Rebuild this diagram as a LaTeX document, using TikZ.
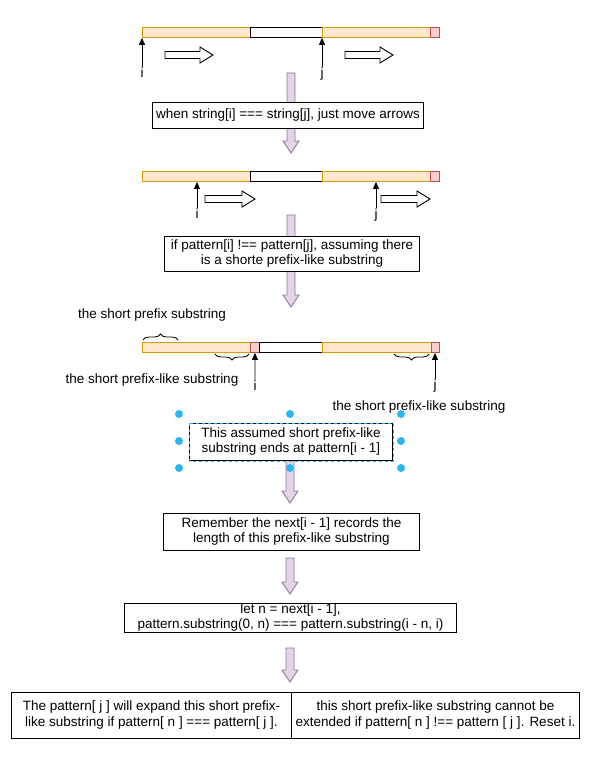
\documentclass[tikz,border=0pt]{standalone}
\usepackage{fontspec}
\setmainfont{Liberation Sans}
\usetikzlibrary{arrows.meta,decorations.pathreplacing}
\definecolor{orfill}{HTML}{FFE6CC}
\definecolor{ordraw}{HTML}{D79B00}
\definecolor{pkfill}{HTML}{F8CECC}
\definecolor{pkdraw}{HTML}{B85450}
\definecolor{pufill}{HTML}{E1D5E7}
\definecolor{pudraw}{HTML}{9673A6}
\definecolor{handle}{HTML}{29B6F2}
\newcommand\purparrow[3]{\draw[purp] (#1-4,#2) -- (#1+4,#2) -- (#1+4,#3-12) -- (#1+8,#3-12) -- (#1,#3) -- (#1-8,#3-12) -- (#1-4,#3-12) -- cycle;}
\newcommand\hollowarrow[3]{\draw[hollow] (#1,#3-3.5) -- (#2-13,#3-3.5) -- (#2-13,#3-8) -- (#2,#3) -- (#2-13,#3+8) -- (#2-13,#3+3.5) -- (#1,#3+3.5) -- cycle;}
\begin{document}
\begin{tikzpicture}[x=1pt,y=-1pt, font=\fontsize{13.5}{15}\selectfont,
 seg/.style={draw, line width=0.9pt, inner sep=0, anchor=north west, minimum height=10pt},
 oseg/.style={seg, fill=orfill, draw=ordraw},
 pseg/.style={seg, fill=pkfill, draw=pkdraw},
 wseg/.style={seg, fill=white, draw=black},
 ptr/.style={line width=0.9pt, -{Triangle[length=7pt,width=6pt]}},
 lbl/.style={inner sep=1pt, anchor=north},
 box/.style={draw, fill=white, line width=0.9pt, inner sep=0, align=center, anchor=north west},
 purp/.style={fill=pufill, draw=pudraw, line width=0.9pt, line join=miter},
 hollow/.style={fill=white, draw=black, line width=0.9pt},
 br/.style={decorate, decoration={brace, amplitude=6pt}, line width=0.8pt},
 dot/.style={circle, fill=handle, inner sep=0, minimum size=8pt}
]
\useasboundingbox[fill=white] (0,0) rectangle (589,762);

% purple arrows (behind the boxes)
\purparrow{291}{73}{153}
\purparrow{291}{215}{307}
\purparrow{290}{460}{503}
\purparrow{290}{558}{594}
\purparrow{290}{648}{682}

% bar 1
\node[oseg, minimum width=108pt] (a1) at (142,27) {};
\node[wseg, minimum width=72pt] (w1) at (250,27) {};
\node[oseg, minimum width=108pt] (b1) at (322,27) {};
\node[pseg, minimum width=9pt] (p1) at (430,27) {};
\node[lbl] (i1) at (142,67) {i};
\node[lbl] (j1) at (322,67) {j};
\draw[ptr] (i1.north) -- (i1.north |- a1.south);
\draw[ptr] (j1.north) -- (j1.north |- b1.south);
\hollowarrow{165}{213}{55}
\hollowarrow{345}{393}{55}

\node[box, minimum width=271pt, minimum height=26pt] (t1) at (152,102) {when string[i] === string[j], just move arrows};

% bar 2
\node[oseg, minimum width=108pt] (a2) at (142,171) {};
\node[wseg, minimum width=72pt] (w2) at (250,171) {};
\node[oseg, minimum width=108pt] (b2) at (322,171) {};
\node[pseg, minimum width=9pt] (p2) at (430,171) {};
\node[lbl] (i2) at (197,208) {i};
\node[lbl] (j2) at (376,208) {j};
\draw[ptr] (i2.north) -- (i2.north |- a2.south);
\draw[ptr] (j2.north) -- (j2.north |- b2.south);
\hollowarrow{205}{255}{199}
\hollowarrow{381}{430}{199}

\node[box, minimum width=255pt, minimum height=35pt] (t2) at (164,236) {if pattern[i] !== pattern[j], assuming there\\is a shorte prefix-like substring};

% bar 3
\node[oseg, minimum width=108pt] (a3) at (142,342) {};
\node[pseg, minimum width=9pt] (p3a) at (250,342) {};
\node[wseg, minimum width=63pt] (w3) at (259,342) {};
\node[oseg, minimum width=109pt] (b3) at (322,342) {};
\node[pseg, minimum width=8pt] (p3b) at (431,342) {};
\node[lbl] (i3) at (255,380) {i};
\node[lbl] (j3) at (435,379) {j};
\draw[ptr] (i3.north) -- (p3a.south);
\draw[ptr] (j3.north) -- (j3.north |- p3b.south);
\draw[br] (143,340) -- (178,340);
\draw[br] (249,354) -- (215,354);
\draw[br] (429,354) -- (394,354);
\node (s1) at (152,315) {the short prefix substring};
\node (s2) at (152,380) {the short prefix-like substring};
\node (s3) at (419,407) {the short prefix-like substring};

% selected box
\node[box, minimum width=203pt, minimum height=37pt] (t3) at (189,423) {This assumed short prefix-like\\substring ends at pattern[i - 1]};
\draw[handle, line width=0.7pt, dash pattern=on 3pt off 3pt] (t3.north west) rectangle (t3.south east);
\foreach \px/\py in {179/414,290/414,401/414,179/441,401/441,179/468,290/468,401/468}
  \node[dot] at (\px,\py) {};

\node[box, minimum width=256pt, minimum height=37pt] (t4) at (163,513) {Remember the next[i - 1] records the\\length of this prefix-like substring};
\node[box, minimum width=332pt, minimum height=29pt] (t5) at (124,603) {let n = next[i - 1],\\pattern.substring(0, n) === pattern.substring(i - n, i)};
\node[box, minimum width=280pt, minimum height=46pt, font=\fontsize{13.5}{16}\selectfont] (t6) at (11,692) {The pattern[ j ] will expand this short prefix-\\like substring if pattern[ n ] === pattern[ j ].};
\node[box, minimum width=288pt, minimum height=46pt, font=\fontsize{13.5}{16}\selectfont] (t7) at (291,692) {this short prefix-like substring cannot be\\extended if pattern[ n ] !== pattern [ j ]. Reset i.};
\end{tikzpicture}
\end{document}
